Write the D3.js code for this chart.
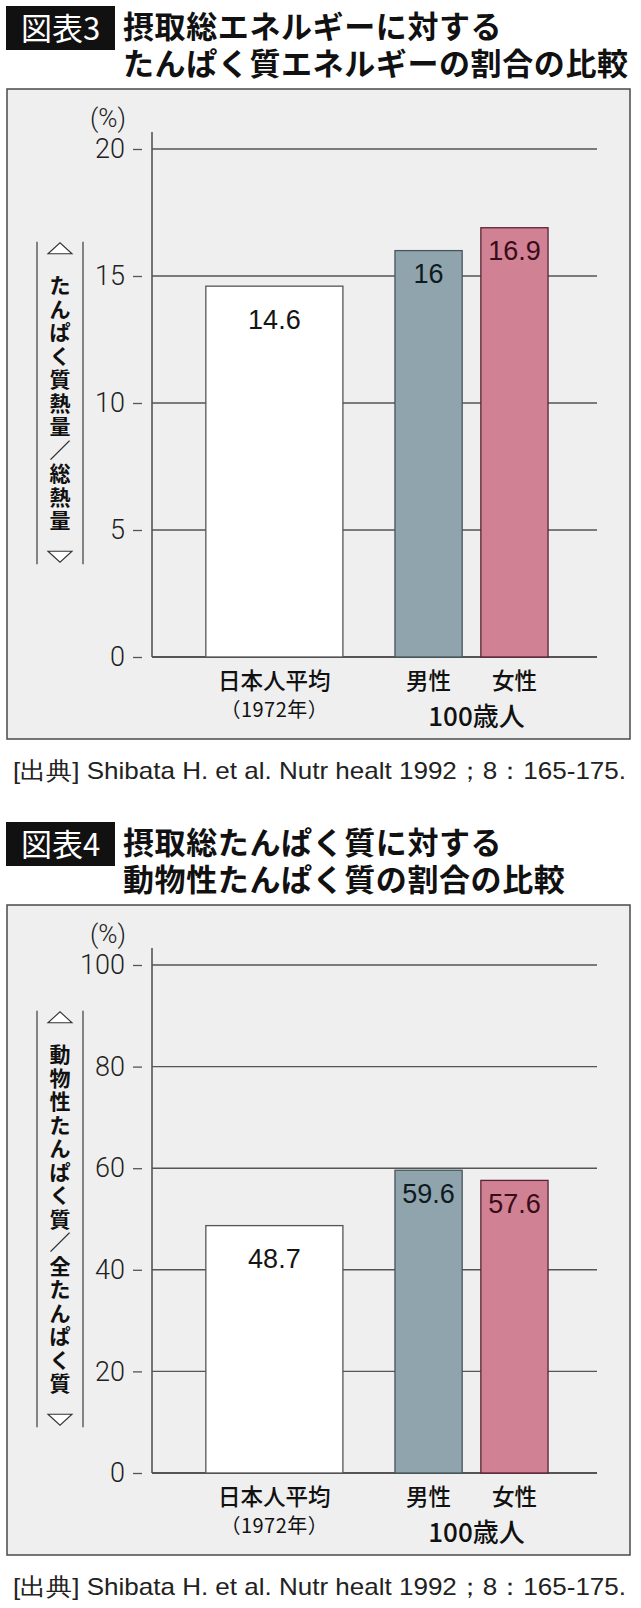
<!DOCTYPE html>
<html>
<head>
<meta charset="utf-8">
<script src="https://cdn.jsdelivr.net/npm/d3@7"></script>
<style>
  body { margin: 0; background: #fff; }
  svg { display: block; }
  .vlabel {
    writing-mode: vertical-rl;
    text-orientation: upright;
    font-feature-settings: "vert" 0, "vrt2" 0;
  }
</style>
</head>
<body>
<div id="chart"></div>
<script>
// values
const categories = ["日本人平均", "男性", "女性"];
const fig3Values = [14.6, 16, 16.9];
const fig4Values = [48.7, 59.6, 57.6];
const fig3Ticks = [0, 5, 10, 15, 20];
const fig4Ticks = [0, 20, 40, 60, 80, 100];
const fig3Badge = "図表3";
const fig4Badge = "図表4";
const fig3Title = ["摂取総エネルギーに対する", "たんぱく質エネルギーの割合の比較"];
const fig4Title = ["摂取総たんぱく質に対する", "動物性たんぱく質の割合の比較"];
const fig3YLabel = "たんぱく質熱量／総熱量";
const fig4YLabel = "動物性たんぱく質／全たんぱく質";
const yearLabel = "（1972年）";
const groupLabel = "100歳人";
const unitLabel = "(%)";
const sourceText = "[出典] Shibata H. et al. Nutr healt 1992；8：165-175.";

var width = 641, height = 1608;
var jp = "'Noto Sans CJK JP', 'Noto Sans', sans-serif";
// latin font first keeps the line box compact, kanji fall through to Noto CJK
var jpTight = "'Liberation Sans', 'Noto Sans CJK JP', sans-serif";
var latin = "'Liberation Sans', Arial, sans-serif";

var fills = ["#ffffff", "#8fa4ad", "#d08194"],
    strokes = ["#555555", "#46565c", "#5b2232"],
    valueColors = ["#151515", "#0f1b20", "#3a0c18"];

// bar spans in a 0-100 slot scale across the plot
var barSlots = [[12.1, 42.9], [54.6, 69.7], [73.9, 89.0]];

let svg = d3.select("#chart")
    .append("svg")
    .attr("width", width)
    .attr("height", height)
    .attr("viewBox", [0, 0, width, height]);

function drawFigure(oy, badge, title, yLabel, values, ticks) {
    let g = svg.append("g").attr("transform", `translate(0,${oy})`);

    // heading
    g.append("rect")
        .attr("x", 6).attr("y", 6)
        .attr("width", 109).attr("height", 44)
        .attr("fill", "#111");
    g.append("text")
        .attr("x", 21).attr("y", 40)
        .attr("fill", "#fff")
        .attr("font-family", jp)
        .attr("font-size", 31)
        .text(badge);
    g.selectAll("text.title")
        .data(title)
        .join("text")
        .attr("class", "title")
        .attr("x", 123)
        .attr("y", (d, i) => 38 + i * 37)
        .attr("fill", "#111")
        .attr("font-family", jpTight)
        .attr("font-weight", 700)
        .attr("font-size", 31)
        .attr("letter-spacing", 0.6)
        .text(d => d);

    // panel
    g.append("rect")
        .attr("x", 7).attr("y", 89)
        .attr("width", 623).attr("height", 650)
        .attr("fill", "#efefef")
        .attr("stroke", "#4a4a4a")
        .attr("stroke-width", 1.5);

    let y = d3.scaleLinear()
        .domain([0, d3.max(ticks)])
        .range([657, 149]);

    let x = d3.scaleLinear()
        .domain([0, 100])
        .range([152, 597]);

    // gridlines incl. baseline
    g.append("g")
        .selectAll("line")
        .data(ticks)
        .join("line")
        .attr("x1", x(0)).attr("x2", x(100))
        .attr("y1", d => y(d)).attr("y2", d => y(d))
        .attr("stroke", "#555")
        .attr("stroke-width", d => d === 0 ? 1.8 : 1.4);

    // axis line
    g.append("line")
        .attr("x1", x(0)).attr("x2", x(0))
        .attr("y1", 132).attr("y2", y(0))
        .attr("stroke", "#555")
        .attr("stroke-width", 1.6);

    // ticks: detached dash + label
    let axis = g.append("g")
        .attr("transform", "translate(142,0)")
        .call(d3.axisLeft(y).tickValues(ticks).tickSize(9).tickPadding(8).tickFormat(d3.format("d")));
    axis.select(".domain").remove();
    axis.selectAll(".tick line").attr("stroke", "#555").attr("stroke-width", 1.3);
    axis.selectAll(".tick text")
        .attr("fill", "#222")
        .attr("font-family", "Roboto, 'Liberation Sans', sans-serif")
        .attr("font-weight", 300)
        .attr("font-size", 27);

    g.append("text")
        .attr("x", 108).attr("y", 127)
        .attr("text-anchor", "middle")
        .attr("fill", "#222")
        .attr("font-family", "Roboto, 'Liberation Sans', sans-serif")
        .attr("font-weight", 300)
        .attr("font-size", 26)
        .text(unitLabel);

    // bars
    g.append("g")
        .selectAll("rect")
        .data(values)
        .join("rect")
        .attr("x", (d, i) => x(barSlots[i][0]))
        .attr("width", (d, i) => x(barSlots[i][1]) - x(barSlots[i][0]))
        .attr("y", d => y(d))
        .attr("height", d => y(0) - y(d))
        .attr("fill", (d, i) => fills[i])
        .attr("stroke", (d, i) => strokes[i])
        .attr("stroke-width", 1.3);

    g.append("g")
        .selectAll("text")
        .data(values)
        .join("text")
        .attr("x", (d, i) => (x(barSlots[i][0]) + x(barSlots[i][1])) / 2)
        .attr("y", (d, i) => y(d) + (i === 0 ? 33 : 23))
        .attr("dy", "0.36em")
        .attr("text-anchor", "middle")
        .attr("fill", (d, i) => valueColors[i])
        .attr("font-family", latin)
        .attr("font-size", 27)
        .text(d => d);

    // category labels
    g.append("g")
        .selectAll("text")
        .data(categories)
        .join("text")
        .attr("x", (d, i) => (x(barSlots[i][0]) + x(barSlots[i][1])) / 2)
        .attr("y", 689)
        .attr("text-anchor", "middle")
        .attr("fill", "#111")
        .attr("font-family", jp)
        .attr("font-weight", 500)
        .attr("font-size", 22.5)
        .text(d => d);
    g.append("text")
        .attr("x", (x(barSlots[0][0]) + x(barSlots[0][1])) / 2)
        .attr("y", 717)
        .attr("text-anchor", "middle")
        .attr("fill", "#111")
        .attr("font-family", jp)
        .attr("font-size", 20)
        .attr("letter-spacing", 0.5)
        .text(yearLabel);
    g.append("text")
        .attr("x", (x(barSlots[1][0]) + x(barSlots[2][1])) / 2 + 5)
        .attr("y", 726)
        .attr("text-anchor", "middle")
        .attr("fill", "#111")
        .attr("font-family", jp)
        .attr("font-weight", 500)
        .attr("font-size", 26)
        .text(groupLabel);

    // vertical y-axis title in a bracket box
    let n = Array.from(yLabel).length,
        pitch = 23.5,
        mid = (y(0) + y(d3.max(ticks))) / 2,
        boxH = n * pitch + 64,
        top = mid - boxH / 2,
        bottom = mid + boxH / 2;

    g.append("g")
        .selectAll("line")
        .data([37, 83])
        .join("line")
        .attr("x1", d => d).attr("x2", d => d)
        .attr("y1", top).attr("y2", bottom)
        .attr("stroke", "#555")
        .attr("stroke-width", 1.4);

    let tri = d3.line();
    g.append("path")
        .attr("d", tri([[48, top + 12], [60, top + 1], [72, top + 12]]) + "Z")
        .attr("fill", "#fff").attr("stroke", "#333").attr("stroke-width", 1.1);
    g.append("path")
        .attr("d", tri([[48, bottom - 13], [60, bottom - 2], [72, bottom - 13]]) + "Z")
        .attr("fill", "#fff").attr("stroke", "#333").attr("stroke-width", 1.1);

    g.append("text")
        .attr("class", "vlabel")
        .attr("x", 60)
        .attr("y", top + 33)
        .attr("fill", "#111")
        .attr("font-family", jp)
        .attr("font-weight", 700)
        .attr("font-size", 21)
        .attr("letter-spacing", pitch - 21)
        .text(yLabel);

    // source
    g.append("text")
        .attr("x", 13).attr("y", 779)
        .attr("fill", "#222")
        .attr("font-family", "'Liberation Sans Narrow', 'Liberation Sans', sans-serif")
        .attr("font-size", 24)
        .attr("textLength", 613)
        .attr("lengthAdjust", "spacingAndGlyphs")
        .text(sourceText);
}

drawFigure(0, fig3Badge, fig3Title, fig3YLabel, fig3Values, fig3Ticks);
drawFigure(816, fig4Badge, fig4Title, fig4YLabel, fig4Values, fig4Ticks);
</script>
</body>
</html>
